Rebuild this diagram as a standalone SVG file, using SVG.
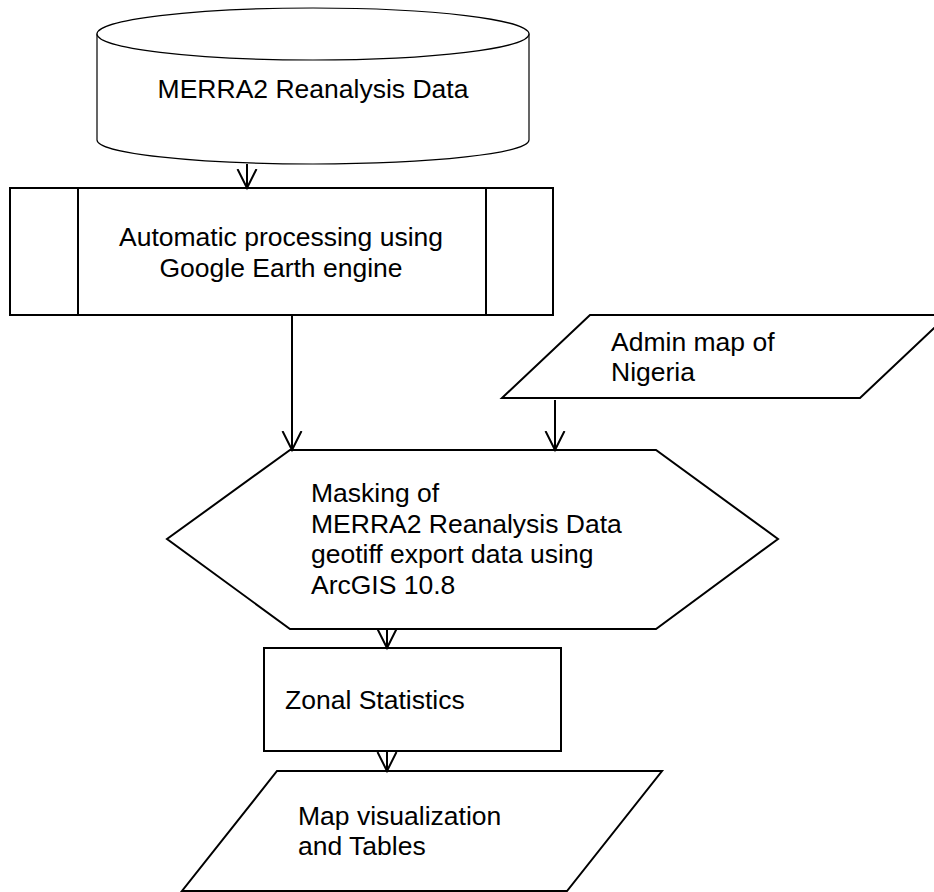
<svg xmlns="http://www.w3.org/2000/svg" width="934" height="892" viewBox="0 0 934 892">
<style>
.shape{fill:#fff;stroke:#000;stroke-width:2}
.thin{fill:#fff;stroke:#000;stroke-width:1.2}
.conn{stroke:#000;stroke-width:2;fill:none}
text{font-family:"Liberation Sans",Arial,sans-serif;font-size:26.5px;fill:#000}
</style>
<defs>
<marker id="arr" markerUnits="userSpaceOnUse" markerWidth="22" markerHeight="22" viewBox="0 0 22 22" refX="19" refY="11" orient="auto">
<path d="M0,1.5 L19,11 L0,20.5" fill="none" stroke="#000" stroke-width="2"/>
</marker>
</defs>
<rect width="934" height="892" fill="#fff"/>
<g id="node-merra2">
<path class="thin" d="M97,34 L97,140 A216,24 0 0 0 529,140 L529,34 Z"/>
<ellipse class="thin" cx="313" cy="34" rx="216" ry="26"/>
<text x="313" y="98" text-anchor="middle">MERRA2 Reanalysis Data</text>
</g>
<g id="node-gee">
<rect class="shape" x="10" y="188" width="543" height="127"/>
<line class="conn" x1="78" y1="188" x2="78" y2="315"/>
<line class="conn" x1="486" y1="188" x2="486" y2="315"/>
<text x="281" y="246" text-anchor="middle">Automatic processing using</text>
<text x="281" y="277" text-anchor="middle">Google Earth engine</text>
</g>
<g id="node-admin">
<polygon class="shape" points="590,315 948,315 860,398 502,398"/>
<text x="611" y="351">Admin map of</text>
<text x="611" y="381">Nigeria</text>
</g>
<g id="node-masking">
<polygon class="shape" points="290,450 656,450 778,539 656,629 290,629 167,539"/>
<text x="311" y="502">Masking of</text>
<text x="311" y="533">MERRA2 Reanalysis Data</text>
<text x="311" y="563">geotiff export data using</text>
<text x="311" y="594">ArcGIS 10.8</text>
</g>
<g id="node-zonal">
<rect class="shape" x="264" y="648" width="297" height="103"/>
<text x="285" y="709">Zonal Statistics</text>
</g>
<g id="node-output">
<polygon class="shape" points="277,771 662,771 567,891 182,891"/>
<text x="298" y="825">Map visualization</text>
<text x="298" y="855">and Tables</text>
</g>
<g id="connectors">
<line class="conn" x1="247" y1="164" x2="247" y2="188" marker-end="url(#arr)"/>
<line class="conn" x1="292" y1="315" x2="292" y2="450" marker-end="url(#arr)"/>
<line class="conn" x1="555" y1="400" x2="555" y2="450" marker-end="url(#arr)"/>
<line class="conn" x1="387" y1="629" x2="387" y2="648" marker-end="url(#arr)"/>
<line class="conn" x1="387" y1="751" x2="387" y2="771" marker-end="url(#arr)"/>
</g>
</svg>
